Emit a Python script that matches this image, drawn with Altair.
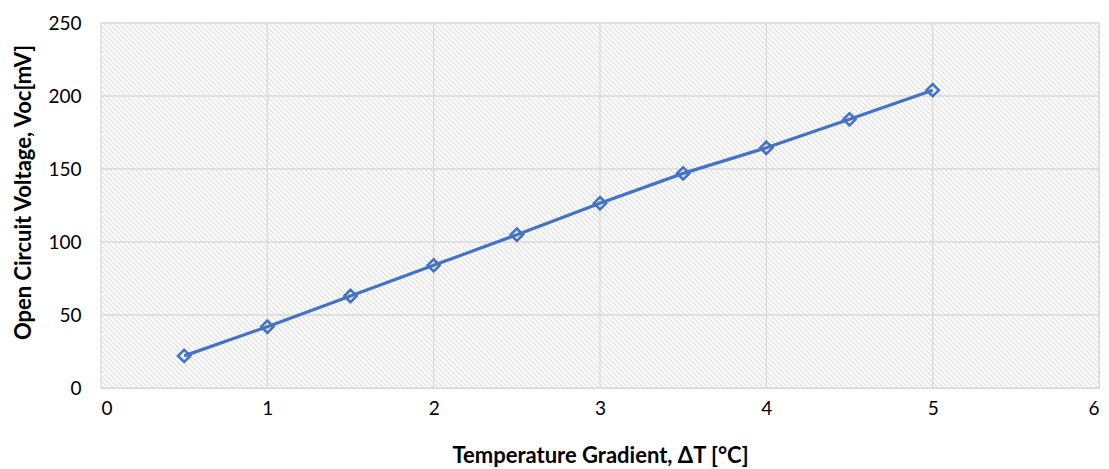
import altair as alt
import pandas as pd

# Data
delta_t = [0.5, 1.0, 1.5, 2.0, 2.5, 3.0, 3.5, 4.0, 4.5, 5.0]
voc_mv = [22, 42, 63, 84, 105, 126.5, 147, 164.5, 184, 204]
x_ticks = [0, 1, 2, 3, 4, 5, 6]
y_ticks = [0, 50, 100, 150, 200, 250]

df = pd.DataFrame({"dT": delta_t, "Voc": voc_mv})
xt = pd.DataFrame({"xv": x_ticks})
yt = pd.DataFrame({"yv": y_ticks})

W, H = 998, 365
FONT = "Lato"
BLUE = "#4472C4"
GRID = "#d9d9d9"

# diagonal hatch emulated by a striped linear gradient (45 degree lines "\")
L = W + H
period = 5.0
k = L / (W * W + H * H)
x2g = k * W
y2g = 1 - k * H
stops = []
i = 0
while i * period <= L:
    base = i * period
    for f, col in ((0.0, "#ffffff"), (0.22, "#ffffff"), (0.5, "#d8d8d8"), (0.78, "#ffffff")):
        off = (base + f * period) / L
        if off <= 1:
            stops.append({"offset": off, "color": col})
    i += 1
hatch = alt.Gradient(gradient="linear", stops=stops, x1=0, y1=1, x2=x2g, y2=y2g)

xscale = alt.Scale(domain=[0, 6], nice=False, zero=False)
yscale = alt.Scale(domain=[0, 250], nice=False, zero=False)

xaxis = alt.Axis(
    values=x_ticks, format="d", title="Temperature Gradient, ΔT [°C]", ticks=False,
    domain=False, grid=False, labelFont=FONT, labelFontSize=19,
    labelColor="#000000", labelPadding=11, titleFont=FONT, titleFontSize=22,
    titleFontWeight="bold", titleColor="#000000", titleY=67, titleBaseline="middle",
)
yaxis = alt.Axis(
    values=y_ticks, format="d", title="Open Circuit Voltage, Voc[mV]", ticks=False,
    domain=False, grid=False, labelFont=FONT, labelFontSize=19,
    labelColor="#000000", labelPadding=20, titleFont=FONT, titleFontSize=22,
    titleFontWeight="bold", titleColor="#000000", titleX=-78, titleY=169,
    titleAlign="center", titleBaseline="middle",
)

bg = alt.Chart(pd.DataFrame({"a": [0]})).mark_rect(fill=hatch, strokeWidth=0).encode(
    x=alt.datum(0, scale=xscale, axis=xaxis),
    x2=alt.datum(6),
    y=alt.datum(0, scale=yscale, axis=yaxis),
    y2=alt.datum(250),
)

vgrid = alt.Chart(xt).mark_rule(color=GRID, strokeWidth=1.3).encode(
    x=alt.X("xv:Q", scale=xscale),
    y=alt.datum(0, scale=yscale),
    y2=alt.datum(250),
)
hgrid = alt.Chart(yt).mark_rule(color=GRID, strokeWidth=1.3).encode(
    y=alt.Y("yv:Q", scale=yscale),
    x=alt.datum(0, scale=xscale),
    x2=alt.datum(6),
)

line = alt.Chart(df).mark_line(color=BLUE, strokeWidth=3.2).encode(
    x=alt.X("dT:Q", scale=xscale),
    y=alt.Y("Voc:Q", scale=yscale),
)

pts = alt.Chart(df).mark_point(
    shape="diamond", size=150, filled=False, color=BLUE, strokeWidth=2.6, opacity=1
).encode(
    x=alt.X("dT:Q", scale=xscale),
    y=alt.Y("Voc:Q", scale=yscale),
)

chart = (
    alt.layer(bg, vgrid, hgrid, line, pts)
    .properties(
        width=W, height=H,
        autosize=alt.AutoSizeParams(type="none"),
        padding={"left": 93, "top": 15, "right": 2, "bottom": 81},
    )
    .configure_view(stroke=None)
    .configure(background="#ffffff")
)

chart.save("out.html", embed_options={"renderer": "svg", "actions": False})
